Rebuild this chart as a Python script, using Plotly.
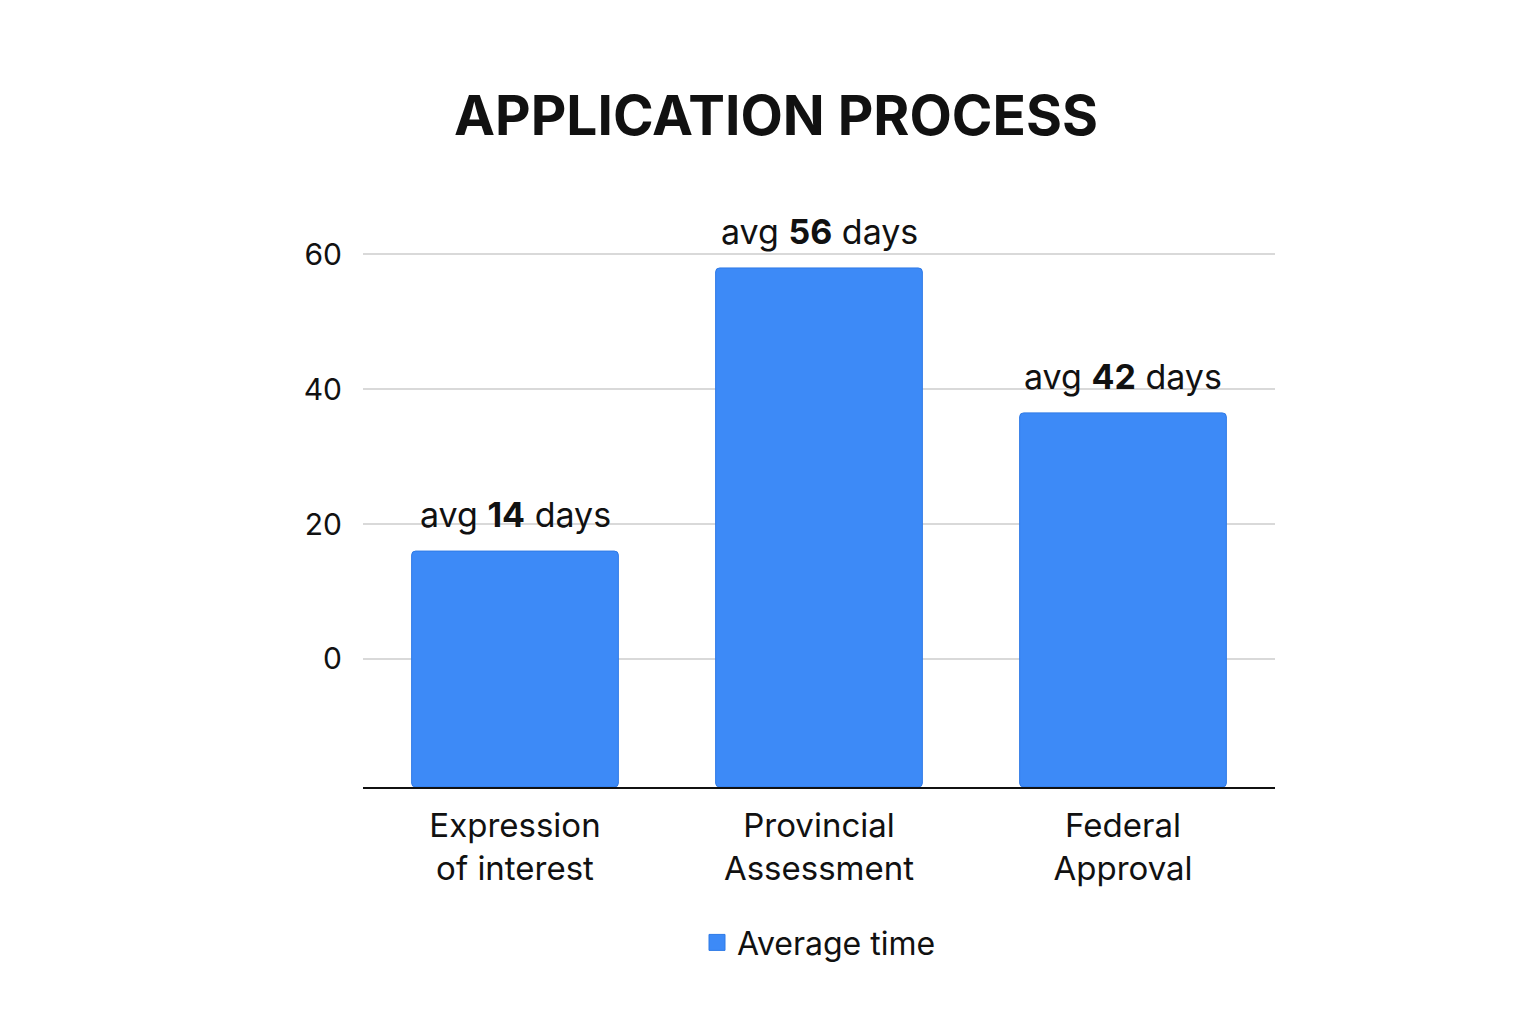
import plotly.graph_objects as go

categories = ["Expression<br>of interest", "Provincial<br>Assessment", "Federal<br>Approval"]
bar_tops = [16, 58, 36.5]
avg_days = [14, 56, 42]
base_value = -19
y_ticks = [0, 20, 40, 60]

fig = go.Figure(go.Bar(
    x=categories,
    y=[t - base_value for t in bar_tops],
    base=[base_value] * 3,
    name="Average time",
    showlegend=False,
    marker=dict(color="#3d8af7", line=dict(color="#2f7ae6", width=1), cornerradius=4),
    width=0.68,
))
fig.add_trace(go.Scatter(
    x=[None], y=[None], mode="markers", name="Average time",
    marker=dict(symbol="square", size=24, color="#3d8af7", line=dict(color="#2f7ae6", width=1)),
))
for c, t, d in zip(categories, bar_tops, avg_days):
    fig.add_annotation(x=c, y=t, text=f"avg <b>{d}</b> days", showarrow=False,
                       yanchor="bottom", yshift=14, font=dict(size=34, color="#111"))
fig.update_layout(
    width=1536, height=1024,
    paper_bgcolor="white", plot_bgcolor="white",
    font=dict(family="Inter", color="#111"),
    title=dict(text="<b>APPLICATION PROCESS</b>", x=0.5, xanchor="center", y=0.895, yanchor="middle",
               font=dict(size=55, color="#111")),
    margin=dict(l=355, r=269, t=233, b=245),
    showlegend=True,
    legend=dict(orientation="h", x=0.5, xanchor="center", y=-0.285, yanchor="middle",
                font=dict(size=32)),
    bargap=0.32,
)
fig.update_yaxes(range=[base_value, 62], tickvals=y_ticks, showgrid=True, gridcolor="#d9d9d9",
                 gridwidth=1.5, zeroline=False, tickfont=dict(size=30), ticks="", ticklabelstandoff=20)
fig.update_xaxes(showline=True, linecolor="#111", linewidth=2, tickfont=dict(size=33), ticks="",
                 ticklabelstandoff=8)
fig.write_html("out.html")
